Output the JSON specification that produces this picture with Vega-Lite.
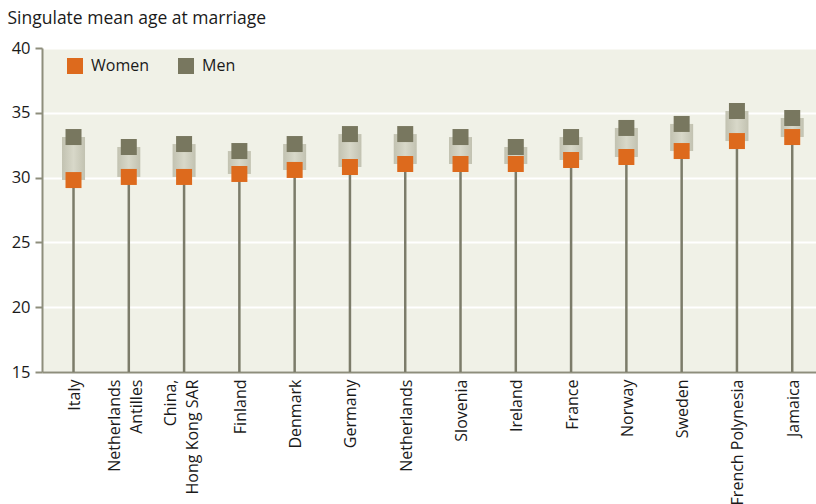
{
  "$schema": "https://vega.github.io/schema/vega-lite/v6.json",
  "width": 774,
  "height": 324,
  "autosize": {"type": "none"},
  "padding": {"left": 42, "top": 48, "right": 0, "bottom": 132},
  "background": "white",
  "config": {
    "font": "Open Sans",
    "view": {"fill": "#F0F1E7", "stroke": null},
    "axis": {"labelColor": "#1a1a1a", "titleColor": "#1a1a1a"}
  },
  "data": {
    "values": [
      {"country": "Italy", "Women": 29.81, "Men": 33.13},
      {"country": "Netherlands|Antilles", "Women": 30.05, "Men": 32.36},
      {"country": "China,|Hong Kong SAR", "Women": 30.05, "Men": 32.59},
      {"country": "Finland", "Women": 30.28, "Men": 32.05},
      {"country": "Denmark", "Women": 30.59, "Men": 32.59},
      {"country": "Germany", "Women": 30.82, "Men": 33.36},
      {"country": "Netherlands", "Women": 31.05, "Men": 33.36},
      {"country": "Slovenia", "Women": 31.05, "Men": 33.13},
      {"country": "Ireland", "Women": 31.05, "Men": 32.36},
      {"country": "France", "Women": 31.36, "Men": 33.13},
      {"country": "Norway", "Women": 31.59, "Men": 33.83},
      {"country": "Sweden", "Women": 32.05, "Men": 34.14},
      {"country": "French Polynesia", "Women": 32.82, "Men": 35.14},
      {"country": "Jamaica", "Women": 33.13, "Men": 34.6}
    ]
  },
  "encoding": {
    "x": {
      "field": "country",
      "type": "nominal",
      "sort": null,
      "scale": {"type": "point", "padding": 0.5, "align": 0.57},
      "axis": {
        "title": null,
        "labelAngle": -90,
        "labelAlign": "right",
        "labelBaseline": "middle",
        "labelFontSize": 16,
        "labelPadding": 7,
        "labelLineHeight": 22,
        "labelOffset": {"condition": {"test": "indexof(datum.value, '|') >= 0", "value": -14}, "value": 1},
        "labelExpr": "split(datum.label, '|')",
        "ticks": false,
        "domainColor": "#8e8e7c",
        "domainWidth": 2,
        "grid": false
      }
    }
  },
  "layer": [
    {
      "mark": {"type": "rule", "color": "#7c7c6a", "strokeWidth": 2.5},
      "encoding": {
        "y": {
          "field": "Women",
          "type": "quantitative",
          "scale": {"domain": [15, 40], "nice": false, "zero": false},
          "axis": {
            "values": [15, 20, 25, 30, 35, 40],
            "title": "Singulate mean age at marriage",
            "titleAngle": 0,
            "titleAlign": "left",
            "titleBaseline": "alphabetic",
            "titleX": -35,
            "titleY": -25,
            "titleFontSize": 17.5,
            "titleFontWeight": "normal",
            "labelFontSize": 16.5,
            "labelPadding": 5,
            "tickSize": 7,
            "tickColor": "#8e8e7c",
            "tickWidth": 2,
            "domainColor": "#8e8e7c",
            "domainWidth": 2,
            "gridColor": "white",
            "gridWidth": 2,
            "gridOpacity": 1
          }
        },
        "y2": {"datum": 15}
      }
    },
    {
      "mark": {
        "type": "bar",
        "size": 23,
        "color": {
          "gradient": "linear",
          "x1": 0, "x2": 1, "y1": 0, "y2": 0,
          "stops": [
            {"offset": 0, "color": "#c2c2b1"},
            {"offset": 0.5, "color": "#d8d8c9"},
            {"offset": 1, "color": "#c2c2b1"}
          ]
        }
      },
      "encoding": {
        "y": {"field": "Women", "type": "quantitative"},
        "y2": {"field": "Men"}
      }
    },
    {
      "transform": [{"fold": ["Women", "Men"], "as": ["sex", "age"]}],
      "mark": {"type": "square", "size": 256, "filled": true, "opacity": 1},
      "encoding": {
        "y": {"field": "age", "type": "quantitative"},
        "color": {
          "field": "sex",
          "type": "nominal",
          "scale": {"domain": ["Women", "Men"], "range": ["#DD6A1D", "#78775F"]},
          "legend": {
            "title": null,
            "orient": "none",
            "legendX": 24,
            "legendY": 9,
            "direction": "horizontal",
            "symbolType": "square",
            "symbolSize": 256,
            "symbolOpacity": 1,
            "labelFontSize": 16,
            "labelColor": "#1a1a1a",
            "labelOffset": 7,
            "columnPadding": 27
          }
        }
      }
    }
  ]
}
